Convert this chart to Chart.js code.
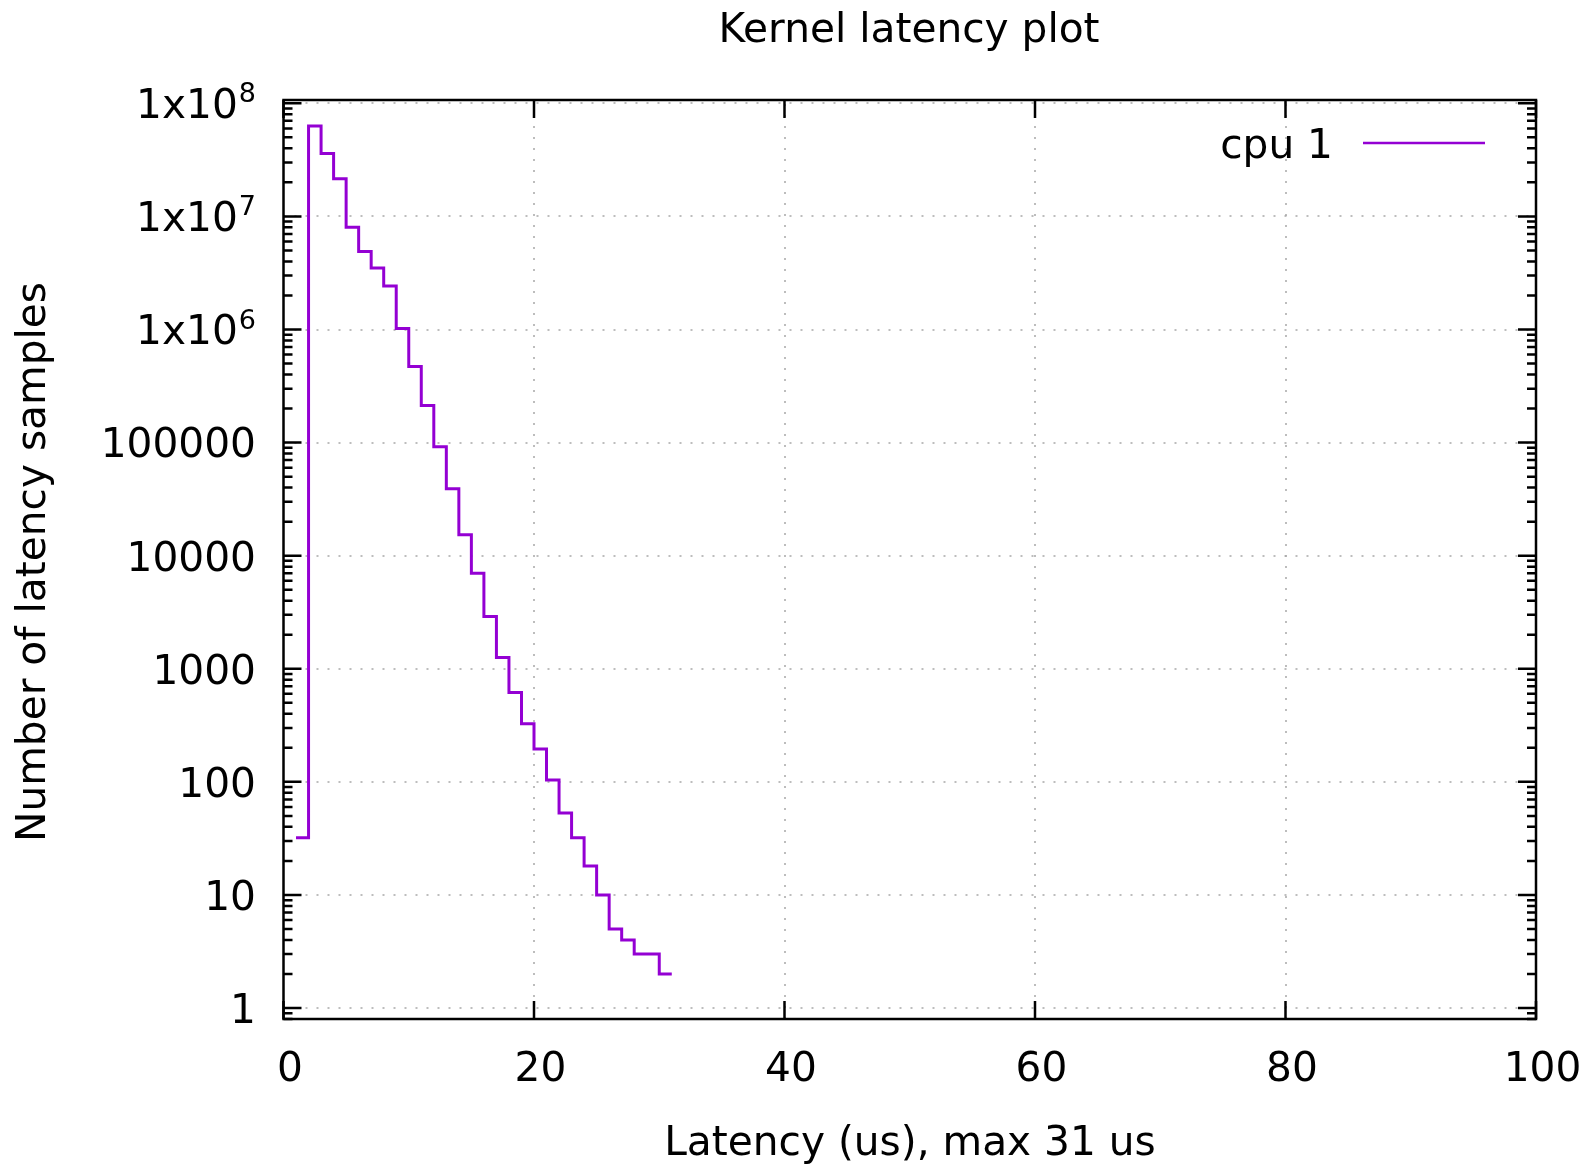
<!DOCTYPE html>
<html>
<head>
<meta charset="utf-8">
<title>Kernel latency plot</title>
<script src="https://cdn.jsdelivr.net/npm/chart.js@4/dist/chart.umd.min.js"></script>
<style>
    html, body { margin: 0; padding: 0; background: #ffffff; }
    #latencyChart { display: block; }
</style>
</head>
<body>
<canvas id="latencyChart" width="1588" height="1167"></canvas>
<script>
// Histogram data (latency in us -> number of samples)
const latencyUs = [1, 2, 3, 4, 5, 6, 7, 8, 9, 10, 11, 12, 13, 14, 15, 16,
    17, 18, 19, 20, 21, 22, 23, 24, 25, 26, 27, 28, 29, 30, 31];
const cpu1Samples = [32, 63000000, 36000000, 21500000, 8000000, 4900000, 3500000, 2430000,
    1020000, 470000, 213000, 92000, 39000, 15300, 7000, 2900,
    1260, 617, 326, 195, 104, 53, 32, 18, 10, 5, 4, 3, 3, 2, 2];

// Axis ticks
const xTickValues = [0, 20, 40, 60, 80, 100];
const xTickLabels = ['0', '20', '40', '60', '80', '100'];
const yTickValues = [1, 10, 100, 1000, 10000, 100000, 1000000, 10000000, 100000000];
const yTickLabels = ['1', '10', '100', '1000', '10000', '100000', '1x10', '1x10', '1x10'];
const yTickExponents = ['', '', '', '', '', '', '6', '7', '8'];

const titleText = 'Kernel latency plot';
const xTitleText = 'Latency (us), max 31 us';
const yTitleText = 'Number of latency samples';
const seriesLabel = 'cpu 1';
const seriesColor = '#9400d3';

const FONT = '"DejaVu Sans", Verdana, sans-serif';
const fontSize = 40.7;

// gnuplot-like frame, grid, inward ticks, labels and key
const gnuplotFrame = {
    id: 'gnuplotFrame',
    beforeDatasetsDraw(chart) {
        const ctx = chart.ctx;
        const area = chart.chartArea;
        const xs = chart.scales.x;
        const ys = chart.scales.y;

        // dotted grid
        ctx.save();
        ctx.strokeStyle = '#a8a8a8';
        ctx.lineWidth = 1.5;
        ctx.setLineDash([2, 9]);
        xTickValues.forEach(v => {
            const px = Math.round(xs.getPixelForValue(v));
            if (px <= area.left + 2 || px >= area.right - 2) return;
            ctx.beginPath();
            ctx.moveTo(px, area.bottom);
            ctx.lineTo(px, area.top);
            ctx.stroke();
        });
        yTickValues.forEach(v => {
            const py = Math.round(ys.getPixelForValue(v));
            if (py <= area.top + 2 || py >= area.bottom - 2) return;
            ctx.beginPath();
            ctx.moveTo(area.left, py);
            ctx.lineTo(area.right, py);
            ctx.stroke();
        });
        ctx.restore();
    },
    afterDraw(chart) {
        const ctx = chart.ctx;
        const area = chart.chartArea;
        const xs = chart.scales.x;
        const ys = chart.scales.y;

        ctx.save();
        ctx.strokeStyle = '#000000';
        ctx.lineWidth = 2.5;
        ctx.setLineDash([]);

        // y ticks: major + minor, on left and right, pointing inward
        const drawYTick = (py, len) => {
            ctx.beginPath();
            ctx.moveTo(area.left, py);
            ctx.lineTo(area.left + len, py);
            ctx.moveTo(area.right, py);
            ctx.lineTo(area.right - len, py);
            ctx.stroke();
        };
        yTickValues.forEach(v => drawYTick(ys.getPixelForValue(v), 18));
        for (let d = -1; d <= 8; d++) {
            for (let m = 2; m <= 9; m++) {
                const v = m * Math.pow(10, d);
                if (v < ys.min || v > ys.max) continue;
                drawYTick(ys.getPixelForValue(v), 9);
            }
        }

        // x ticks: bottom and top
        xTickValues.forEach(v => {
            const px = xs.getPixelForValue(v);
            ctx.beginPath();
            ctx.moveTo(px, area.bottom);
            ctx.lineTo(px, area.bottom - 18);
            ctx.moveTo(px, area.top);
            ctx.lineTo(px, area.top + 18);
            ctx.stroke();
        });

        // frame
        ctx.strokeRect(area.left, area.top, area.right - area.left, area.bottom - area.top);

        // tick labels
        ctx.fillStyle = '#000000';
        ctx.textBaseline = 'alphabetic';
        const capHalf = fontSize * 0.729 / 2;
        const labelRight = 256;
        yTickValues.forEach((v, i) => {
            const py = ys.getPixelForValue(v);
            let right = labelRight;
            if (yTickExponents[i]) {
                ctx.font = '27px ' + FONT;
                ctx.textAlign = 'right';
                ctx.fillText(yTickExponents[i], right, py - 1);
                right -= ctx.measureText(yTickExponents[i]).width + 1;
            }
            ctx.font = fontSize + 'px ' + FONT;
            ctx.textAlign = 'right';
            ctx.fillText(yTickLabels[i], right, py + capHalf);
        });
        ctx.textAlign = 'center';
        xTickValues.forEach((v, i) => {
            const px = xs.getPixelForValue(v);
            ctx.fillText(xTickLabels[i], px + 6.5, 1081);
        });

        // titles
        ctx.fillText(titleText, 909, 42);
        ctx.fillText(xTitleText, 910, 1155);
        ctx.save();
        ctx.translate(45, 562);
        ctx.rotate(-Math.PI / 2);
        ctx.fillText(yTitleText, 0, 0);
        ctx.restore();

        // key
        const ds = chart.data.datasets[0];
        ctx.textAlign = 'right';
        ctx.fillText(ds.label, 1333, 143 + capHalf);
        ctx.strokeStyle = ds.borderColor;
        ctx.lineWidth = 2.5;
        ctx.beginPath();
        ctx.moveTo(1363, 143);
        ctx.lineTo(1485, 143);
        ctx.stroke();

        ctx.restore();
    }
};

const ctx = document.getElementById('latencyChart').getContext('2d');
new Chart(ctx, {
    type: 'line',
    data: {
        datasets: [{
            label: seriesLabel,
            data: latencyUs.map((x, i) => ({ x: x, y: cpu1Samples[i] })),
            borderColor: seriesColor,
            backgroundColor: seriesColor,
            borderWidth: 3,
            pointRadius: 0,
            stepped: 'before',
            fill: false
        }]
    },
    options: {
        responsive: false,
        animation: false,
        devicePixelRatio: 1,
        layout: {
            padding: { left: 283.5, top: 100, right: 52, bottom: 148 }
        },
        plugins: {
            legend: { display: false },
            title: { display: false },
            tooltip: { enabled: false }
        },
        scales: {
            x: { type: 'linear', min: 0, max: 100, display: false },
            y: { type: 'logarithmic', min: 0.8, max: 107000000, display: false }
        }
    },
    plugins: [gnuplotFrame]
});
</script>
</body>
</html>
